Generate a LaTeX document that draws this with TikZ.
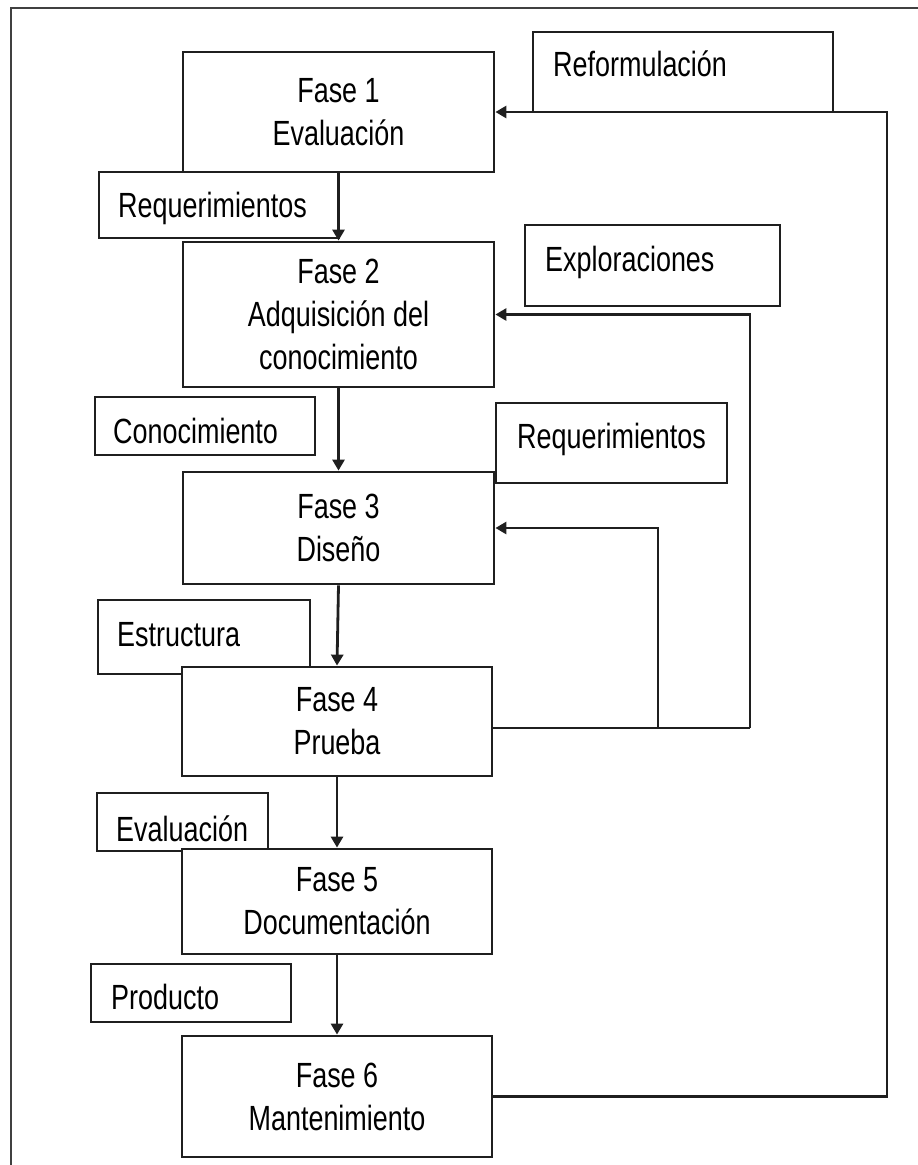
\documentclass[tikz,border=0pt]{standalone}
\usepackage{fontspec}
\usetikzlibrary{arrows.meta}
\newfontfamily\diagfontfam[FakeStretch=0.77]{Liberation Sans}
\newcommand\diagfont{\diagfontfam\fontsize{35}{43}\selectfont}
\tikzset{
  ln/.style={line width=2.8pt, draw=black!88},
  fase/.style={ln, fill=white, rectangle, inner sep=0pt, align=center, font=\diagfont},
  lblbox/.style={ln, fill=white, rectangle, inner sep=0pt},
  lbltxt/.style={inner sep=0pt, anchor=base west, font=\diagfont},
  flow/.style={ln, -{Triangle[width=12pt,length=11pt]}},
}
\begin{document}
\begin{tikzpicture}[x=1pt,y=-1pt]
\useasboundingbox (0,0) rectangle (918,1165);
% outer frame (left and top edges)
\draw[line width=2.8pt, draw=black!75] (11,1165) -- (11,8) -- (918,8);

% label boxes (drawn first so that the phase boxes cover their corners)
\node[lblbox, minimum width=240, minimum height=66] (reqA) at (219,205) {};
\node[lbltxt] (reqAt) at (118,217) {Requerimientos};
\node[lblbox, minimum width=300, minimum height=80] (refo) at (683,72) {};
\node[lbltxt] (refot) at (553,76) {Reformulación};
\node[lblbox, minimum width=255, minimum height=81] (explo) at (652.5,265.5) {};
\node[lbltxt] (explot) at (545,271) {Exploraciones};
\node[lblbox, minimum width=220, minimum height=58] (cono) at (205,426) {};
\node[lbltxt] (conot) at (113,443) {Conocimiento};
\node[lblbox, minimum width=231, minimum height=80] (reqB) at (611.5,443) {};
\node[lbltxt] (reqBt) at (517,448) {Requerimientos};
\node[lblbox, minimum width=212, minimum height=74] (estr) at (204,637) {};
\node[lbltxt] (estrt) at (117,646) {Estructura};
\node[lblbox, minimum width=171, minimum height=58] (eval) at (182.5,822) {};
\node[lbltxt] (evalt) at (116,841) {Evaluación};
\node[lblbox, minimum width=200, minimum height=58] (prod) at (191,993) {};
\node[lbltxt] (prodt) at (111,1009) {Producto};

% phase boxes
\node[fase, minimum width=311, minimum height=120] (f1) at (338.5,112) {Fase 1\\Evaluación};
\node[fase, minimum width=311, minimum height=145] (f2) at (338.5,314.5) {Fase 2\\Adquisición del\\conocimiento};
\node[fase, minimum width=311, minimum height=112] (f3) at (338.5,528) {Fase 3\\Diseño};
\node[fase, minimum width=310, minimum height=109] (f4) at (337,721.5) {Fase 4\\Prueba};
\node[fase, minimum width=310, minimum height=105] (f5) at (337,901.5) {Fase 5\\Documentación};
\node[fase, minimum width=310, minimum height=121] (f6) at (337,1096.5) {Fase 6\\Mantenimiento};

% main sequence
\draw[flow] (f1.south) -- (f2.north);
\draw[flow] (f2.south) -- (f3.north);
\draw[flow] (f3.south) -- (f4.north);
\draw[flow] (f4.south) -- (f5.north);
\draw[flow] (f5.south) -- (f6.north);

% feedback loops
\coordinate (loopR) at (887,112);
\draw[flow] (f6.east) -| (loopR) -- (f1.east);

\coordinate (backA) at (750,728);
\coordinate (backB) at (658,728);
\draw[ln] (f4.east |- backA) -- (backA);
\draw[flow] (backA) |- (f2.east);
\draw[flow] (backB) |- (f3.east);
\end{tikzpicture}
\end{document}
